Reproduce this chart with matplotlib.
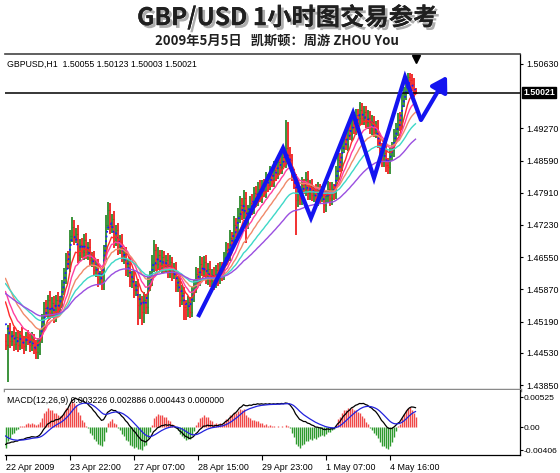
import numpy as np
import matplotlib
matplotlib.use("Agg")
import matplotlib.pyplot as plt
import matplotlib.patheffects as pe
from matplotlib.transforms import blended_transform_factory

plt.rcParams['font.family'] = ['Liberation Sans', 'DejaVu Sans']

# ---------------- data (prices in pips above 1.4000) ----------------
first_open = 478
close_pips = [
    470, 500, 478, 490, 472, 486, 470, 491, 476, 468,
    486, 480, 470, 482, 462, 455, 472, 486, 515, 548,
    540, 565, 538, 558, 530, 565, 545, 560, 590, 612,
    650, 640, 700, 718, 696, 705, 660, 680, 665, 691,
    665, 676, 650, 655, 628, 636, 608, 615, 600, 660,
    723, 755, 720, 735, 690, 712, 675, 688, 655, 662,
    630, 640, 605, 612, 586, 595, 554, 560, 540, 565,
    550, 596, 610, 640, 670, 640, 660, 638, 655, 636,
    648, 625, 645, 620, 630, 596, 605, 565, 580, 550,
    545, 560, 540, 575, 590, 620, 610, 640, 628, 645,
    612, 630, 605, 618, 600, 628, 610, 632, 620, 649,
    670, 660, 696, 690, 723, 710, 742, 765, 750, 780,
    729, 750, 770, 760, 790, 776, 800, 785, 805, 795,
    818, 808, 830, 818, 840, 832, 855, 845, 866, 858,
    885, 871, 860, 829, 815, 776, 792, 780, 808, 800,
    820, 790, 805, 786, 795, 775, 797, 785, 790, 765,
    784, 800, 780, 798, 790, 829, 860, 850, 890, 905,
    895, 924, 915, 945, 930, 955, 948, 966, 950, 962,
    940, 950, 930, 941, 920, 928, 900, 881, 860, 875,
    850, 845, 870, 881, 910, 925, 945, 935, 987, 1000,
    1015, 1035, 1030, 1020, 1005.5, 1002.1,
]
up_wick = [
    14, 12, 16, 10, 18, 12, 15, 9, 17, 13,
    11, 16, 12, 14, 10, 18, 13, 15, 20, 12,
    16, 11, 18, 13, 15, 10, 17, 12, 16, 20,
    14, 18, 12, 22, 15, 11, 17, 13, 16, 12,
    15, 12, 17, 10, 14, 12, 16, 11, 13, 20,
    22, 17, 14, 12, 18, 11, 15, 13, 17, 12,
    14, 11, 16, 13, 15, 10, 14, 18, 12, 16,
    13, 18, 15, 20, 21, 12, 16, 11, 15, 13,
    12, 16, 14, 11, 13, 15, 10, 14, 16, 12,
    15, 13, 11, 18, 16, 14, 12, 17, 15, 13,
    14, 12, 16, 13, 17, 11, 15, 13, 12, 16,
    18, 14, 16, 13, 19, 15, 17, 20, 14, 16,
    12, 16, 15, 18, 13, 16, 14, 17, 12, 15,
    16, 13, 17, 14, 19, 12, 16, 14, 17, 18,
    60, 56, 16, 13, 12, 15, 18, 13, 16, 12,
    14, 17, 12, 15, 11, 14, 16, 12, 15, 13,
    12, 15, 14, 16, 12, 19, 17, 14, 18, 15,
    16, 13, 18, 15, 17, 14, 12, 16, 15, 13,
    12, 16, 14, 15, 12, 14, 16, 12, 15, 13,
    16, 14, 15, 18, 16, 14, 15, 17, 14, 15,
    16, 9, 9, 12, 14, 6.8,
]
dn_wick = [
    12, 78, 14, 11, 16, 12, 15, 10, 14, 17,
    12, 11, 15, 13, 12, 16, 14, 23, 12, 15,
    11, 16, 14, 12, 15, 11, 16, 13, 12, 15,
    14, 11, 16, 13, 15, 12, 17, 14, 11, 15,
    14, 16, 12, 15, 11, 14, 16, 12, 15, 14,
    12, 11, 16, 14, 15, 12, 16, 14, 11, 15,
    14, 16, 12, 15, 17, 14, 42, 30, 28, 25,
    16, 14, 12, 15, 17, 14, 12, 15, 16, 14,
    12, 15, 14, 16, 12, 14, 15, 16, 12, 28,
    23, 16, 14, 12, 15, 11, 14, 16, 12, 15,
    14, 16, 12, 15, 14, 11, 16, 12, 15, 14,
    12, 15, 14, 16, 11, 14, 12, 15, 16, 14,
    44, 14, 12, 15, 14, 16, 12, 14, 15, 12,
    14, 16, 12, 15, 14, 16, 12, 15, 14, 12,
    14, 16, 15, 14, 16, 74, 16, 14, 15, 12,
    16, 14, 15, 12, 14, 16, 12, 15, 14, 17,
    14, 12, 16, 14, 15, 12, 14, 16, 12, 15,
    14, 16, 12, 15, 14, 16, 12, 14, 15, 16,
    12, 15, 14, 16, 12, 14, 15, 16, 14, 15,
    16, 14, 15, 12, 14, 16, 15, 14, 12, 15,
    14, 16, 15, 14, 12, 1.8,
]

# moving averages: (period, seed level in pips at left edge, colour, style)
ma_periods = [3, 8, 13, 21, 34, 55]
ma_seeds = [560, 586, 601, 624, 607, 582]
ma_colors = ['#1a1aff', '#ff2a2a', '#ff3f9f', '#f08a6a', '#3fd8c8', '#9a4fe0']
ma_styles = [':', '-', '-', '-', '-', '-']

# MACD seeds (pips) for fast EMA, slow EMA, signal
macd_seed = [505, 535, -12]

# tick labels
price_ticks = [1.50630, 1.49270, 1.48590, 1.47910, 1.47230, 1.46550,
               1.45870, 1.45190, 1.44530, 1.43850]
macd_ticks = [0.00525, 0.0, -0.00406]
macd_tick_labels = ['0.00525', '0.00', '-0.00406']
date_ticks = [0, 32, 64, 96, 128, 160, 192]
date_labels = ['22 Apr 2009', '23 Apr 22:00', '27 Apr 07:00', '28 Apr 15:00',
               '29 Apr 23:00', '1 May 07:00', '4 May 16:00']

# hand-drawn blue zigzag (bar index, price)
zig_bar = [96.25, 138.75, 152.75, 173.75, 184.25, 199.75, 207.75]
zig_price = [1.45287, 1.48856, 1.47378, 1.49595, 1.48222, 1.50355, 1.49447]
arrow_tip = (220.75, 1.50380)

last_price = 1.50021

# ---------------- derived ----------------
c = np.array(close_pips, dtype=float)
N = len(c)
o = np.concatenate([[first_open], c[:-1]])
h = np.maximum(o, c) + np.array(up_wick, dtype=float)
l = np.minimum(o, c) - np.array(dn_wick, dtype=float)
C = 1.4 + c / 1e4
O = 1.4 + o / 1e4
H = 1.4 + h / 1e4
L = 1.4 + l / 1e4
xi = np.arange(N)


def ema(vals, period, seed):
    a = 2.0 / (period + 1)
    out = np.empty(len(vals))
    prev = seed
    for i, v in enumerate(vals):
        prev = prev + a * (v - prev)
        out[i] = prev
    return out


W, Hpx = 560, 473
fig = plt.figure(figsize=(W / 100, Hpx / 100), dpi=100)
fig.patch.set_facecolor('white')


def fx(px):
    return px / W


def fy(py):
    return 1 - py / Hpx


left_px, right_px = 4.5, 520
main_top, main_bot = 54, 390
macd_top, macd_bot = 390, 455

ax = fig.add_axes([fx(left_px), fy(main_bot), fx(right_px - left_px),
                   (main_bot - main_top) / Hpx])
ax2 = fig.add_axes([fx(left_px), fy(macd_bot), fx(right_px - left_px),
                    (macd_bot - macd_top) / Hpx])

ppx = 0.0002112
y_top = 1.5063 + (64 - main_top) * ppx
y_bot = 1.5063 - (main_bot - 64) * ppx
x_left = -0.5
x_right = x_left + (right_px - left_px) / 2.0

# bars
up = C >= O
colors = np.where(up, '#2c8a2c', '#f02020')
ax.vlines(xi, L, H, colors=colors, lw=1.3)
ax.hlines(O, xi - 0.5, xi, colors=colors, lw=0.8)
ax.hlines(C, xi, xi + 0.5, colors=colors, lw=0.8)

# moving averages
for p, s, col, ls in zip(ma_periods, ma_seeds, ma_colors, ma_styles):
    m = ema(c, p, s)
    ax.plot(xi, 1.4 + m / 1e4, color=col, lw=1.0 if ls == '-' else 1.3,
            ls=ls, zorder=3)

# current price line and label
ax.axhline(last_price, color='black', lw=1.1, zorder=4)
bt = blended_transform_factory(ax.transAxes, ax.transData)
ax.text(1.006, last_price, f'{last_price:.5f}', transform=bt, ha='left',
        va='center', color='white', fontsize=6.3, fontweight='bold',
        bbox=dict(boxstyle='square,pad=0.12', fc='black', ec='black'))

# zigzag
ax.plot(zig_bar, zig_price, color='#1414f0', lw=3.0, solid_joinstyle='miter',
        solid_capstyle='butt', zorder=6, clip_on=False)
ax.annotate('', xy=arrow_tip, xytext=(zig_bar[-1], zig_price[-1]),
            arrowprops=dict(arrowstyle='-|>,head_length=0.9,head_width=0.55',
                            color='#1414f0', lw=3.0, shrinkA=0, shrinkB=0),
            annotation_clip=False, zorder=6)

# triangle marker (chart shift)
ax.plot([N - 1], [0.985], transform=blended_transform_factory(ax.transData, ax.transAxes),
        marker='v', color='black', markersize=6, clip_on=False, zorder=7)

ax.text(0.0055, 1 - (64 - main_top) / (main_bot - main_top),
        'GBPUSD,H1  1.50055 1.50123 1.50003 1.50021', transform=ax.transAxes,
        ha='left', va='center', fontsize=6.3, color='black')

ax.set_xlim(x_left, x_right)
ax.set_ylim(y_bot, y_top)
ax.yaxis.tick_right()
ax.set_yticks(price_ticks)
ax.set_yticklabels([f'{t:.5f}' for t in price_ticks], fontsize=6.4)
ax.tick_params(axis='y', direction='out', length=2.5, width=0.8, pad=2)
ax.set_xticks([])
ax.spines['left'].set_visible(False)
ax.spines['top'].set_color('#444444')
ax.spines['top'].set_linewidth(1.2)
ax.spines['right'].set_color('black')
ax.spines['right'].set_linewidth(0.9)
ax.spines['bottom'].set_color('#8a8a8a')
ax.spines['bottom'].set_linewidth(2.5)

# MACD
fast = ema(c, 12, macd_seed[0])
slow = ema(c, 26, macd_seed[1])
macd = (fast - slow) / 1e4
sig = ema(macd * 1e4, 9, macd_seed[2]) / 1e4
hist = 2.5 * (macd - sig)
hcol = np.where(hist >= 0, '#f04848', '#2e9a2e')
ax2.vlines(xi, 0, hist, colors=hcol, lw=1.0)
ax2.plot(xi, macd, color='black', lw=0.9)
ax2.plot(xi, sig, color='#2222dd', lw=0.9)
ax2.text(0.0055, 1 - (400 - macd_top) / (macd_bot - macd_top),
         'MACD(12,26,9) 0.003226 0.002886 0.000443 0.000000',
         transform=ax2.transAxes, ha='left', va='center', fontsize=6.3)
ax2.set_xlim(x_left, x_right)
ax2.set_ylim(-(macd_bot - 427) * 0.000175, 0.00525 + (397 - macd_top) * 0.000175)
ax2.yaxis.tick_right()
ax2.set_yticks(macd_ticks)
ax2.set_yticklabels(macd_tick_labels, fontsize=6.1)
ax2.tick_params(axis='y', direction='out', length=2.0, width=0.8, pad=0.8)
ax2.set_xticks(date_ticks)
ax2.set_xticklabels(date_labels, fontsize=6.4)
for lab in ax2.get_xticklabels():
    lab.set_ha('left')
ax2.tick_params(axis='x', direction='out', length=3.5, width=0.8, pad=2)
ax2.spines['left'].set_visible(False)
ax2.spines['top'].set_visible(False)
ax2.spines['right'].set_linewidth(0.9)
ax2.spines['bottom'].set_linewidth(0.9)

# titles
cjk = ['Noto Sans CJK SC', 'DejaVu Sans']
fig.text(fx(287), fy(17), 'GBP/USD 1小时图交易参考', family=cjk, fontsize=17.5,
         fontweight='bold', ha='center', va='center', color='#202020',
         path_effects=[pe.withSimplePatchShadow(offset=(2, -2), shadow_rgbFace='#777777',
                                                alpha=0.6), pe.Normal()])
fig.text(fx(277), fy(41), '2009年5月5日   凯斯顿：周游 ZHOU You', family=cjk,
         fontsize=9.5, fontweight='bold', ha='center', va='center', color='#202020')

fig.savefig('out.png', dpi=100, facecolor='white')
